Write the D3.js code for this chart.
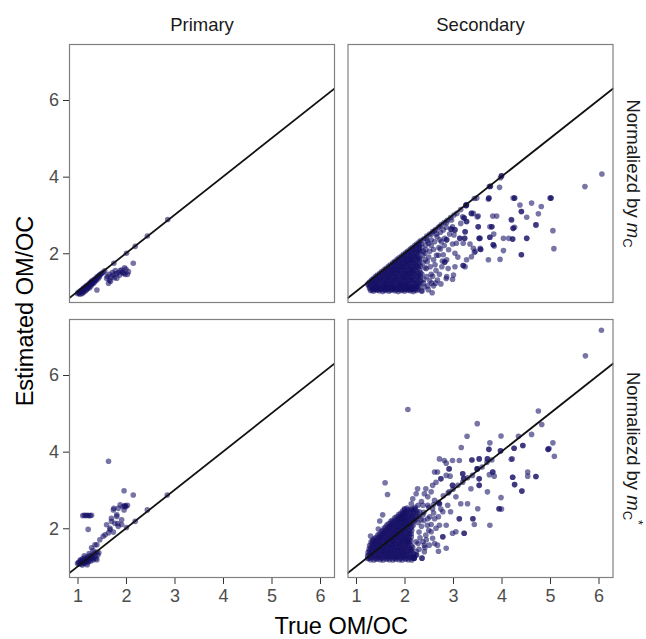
<!DOCTYPE html>
<html>
<head>
<meta charset="utf-8">
<script src="https://cdn.jsdelivr.net/npm/d3@7/dist/d3.min.js"></script>
<style>
  html, body { margin: 0; padding: 0; background: #fff; }
  svg { display: block; font-family: "Liberation Sans", Arial, Helvetica, sans-serif; }
</style>
</head>
<body>
<svg id="chart" width="646" height="639"></svg>
<script>
// ---- facet labels and ticks ----
const columnLabels = ["Primary", "Secondary"];
const rowLabels = [{ lead: "Normaliezd by ", sub: "C", sup: "" },
                   { lead: "Normaliezd by ", sub: "C", sup: "*" }];
const xTicks = [1, 2, 3, 4, 5, 6];
const yTicks = [2, 4, 6];
const xTitle = "True OM/OC";
const yTitle = "Estimated OM/OC";

// ---- [true OM/OC, estimated OM/OC] per facet ----
const primaryMc = [
  [1.02,0.98],[1.05,1.00],[1.07,1.03],[1.08,0.97],[1.10,1.06],[1.12,1.05],[1.13,1.10],[1.15,1.08],
  [1.17,1.12],[1.18,1.15],[1.20,1.14],[1.22,1.18],[1.24,1.20],[1.25,1.17],[1.27,1.24],[1.29,1.25],
  [1.30,1.28],[1.32,1.27],[1.34,1.31],[1.36,1.33],[1.38,1.34],[1.40,1.38],[1.42,1.39],[1.44,1.41],
  [1.46,1.44],[1.48,1.45],[1.50,1.48],[1.53,1.50],[1.56,1.54],[1.75,1.74],
  [1.09,1.02],[1.14,1.04],[1.19,1.10],[1.23,1.14],[1.26,1.21],[1.31,1.23],[1.37,1.30],[1.45,1.38],
  [1.00,0.95],[1.03,0.96],
  [1.05,0.93],[1.10,0.95],[1.12,0.99],[1.15,1.00],[1.18,1.04],[1.20,1.07],[1.22,1.10],[1.25,1.10],
  [1.28,1.15],[1.30,1.20],[1.33,1.22],[1.35,1.25],[1.38,1.29],[1.40,1.04],[1.16,1.09],[1.27,1.19],
  [1.42,1.33],
  [1.60,1.35],[1.62,1.40],[1.64,1.22],[1.66,1.30],[1.68,1.27],[1.70,1.38],[1.74,1.43],[1.76,1.36],
  [1.80,1.47],[1.81,1.35],[1.84,1.49],[1.87,1.43],[1.88,1.55],[1.91,1.56],[1.93,1.50],[1.95,1.48],
  [1.97,1.62],[1.98,1.45],[2.00,1.58],[2.03,1.45],[2.05,1.52],[2.15,1.74],[1.72,1.50],[1.65,1.45],
  [1.78,1.55],
  [2.01,2.00],[2.19,2.18],[2.44,2.45],[2.86,2.88]
];

const secondaryMc = [
  [1.30,1.03],[1.36,1.01],[1.42,1.04],[1.48,1.02],[1.55,1.00],[1.61,1.03],[1.68,1.01],[1.74,1.04],
  [1.80,1.02],[1.87,1.00],[1.93,1.03],[2.00,1.01],[2.06,1.04],[2.12,1.02],[2.18,1.00],[2.25,1.03],
  [2.36,1.01],[2.57,0.97],
  [1.33,1.05],[1.39,1.06],[1.45,1.05],[1.51,1.06],[1.58,1.05],[1.64,1.06],[1.71,1.05],[1.77,1.06],
  [1.83,1.05],[1.90,1.06],[1.96,1.05],[2.03,1.06],[2.09,1.05],[2.15,1.06],[2.21,1.05],[2.28,1.06],
  [1.28,1.09],[1.35,1.07],[1.41,1.10],[1.47,1.08],[1.53,1.06],[1.60,1.09],[1.66,1.07],[1.73,1.10],
  [1.79,1.08],[1.86,1.06],[1.92,1.09],[1.99,1.07],[2.05,1.10],[2.11,1.08],[2.17,1.06],[2.24,1.09],
  [1.28,1.13],[1.34,1.12],[1.41,1.13],[1.47,1.12],[1.53,1.13],[1.60,1.12],[1.66,1.13],[1.73,1.12],
  [1.79,1.13],[1.86,1.12],[1.92,1.13],[1.99,1.12],[2.05,1.13],[2.12,1.12],[2.18,1.13],[2.25,1.12],
  [2.31,1.13],
  [1.25,1.17],[1.31,1.15],[1.38,1.18],[1.44,1.16],[1.50,1.14],[1.57,1.17],[1.63,1.15],[1.70,1.18],
  [1.76,1.16],[1.83,1.14],[1.89,1.17],[1.96,1.15],[2.02,1.18],[2.09,1.16],[2.15,1.14],[2.22,1.17],
  [2.28,1.15],
  [1.25,1.21],[1.31,1.20],[1.37,1.21],[1.44,1.20],[1.50,1.21],[1.57,1.20],[1.63,1.21],[1.69,1.20],
  [1.76,1.21],[1.82,1.20],[1.89,1.21],[1.95,1.20],[2.02,1.21],[2.08,1.20],[2.15,1.21],[2.23,1.20],
  [2.30,1.21],
  [1.28,1.25],[1.34,1.26],[1.41,1.24],[1.47,1.27],[1.54,1.25],[1.60,1.23],[1.66,1.26],[1.73,1.24],
  [1.79,1.27],[1.86,1.25],[1.92,1.23],[1.98,1.26],[2.05,1.24],[2.12,1.27],[2.19,1.25],[2.27,1.23],
  [1.32,1.30],[1.38,1.29],[1.44,1.30],[1.51,1.29],[1.57,1.30],[1.64,1.29],[1.70,1.30],[1.77,1.29],
  [1.83,1.30],[1.90,1.29],[1.97,1.30],[2.03,1.29],[2.10,1.30],[2.17,1.29],[2.24,1.30],[2.32,1.29],
  [1.36,1.34],[1.42,1.33],[1.49,1.35],[1.55,1.32],[1.62,1.34],[1.68,1.36],[1.75,1.33],[1.81,1.35],
  [1.88,1.32],[1.94,1.34],[2.01,1.36],[2.07,1.33],[2.14,1.35],[2.21,1.32],[2.29,1.34],
  [1.40,1.39],[1.46,1.38],[1.53,1.39],[1.59,1.38],[1.66,1.39],[1.72,1.38],[1.79,1.39],[1.85,1.38],
  [1.92,1.39],[1.98,1.38],[2.05,1.39],[2.11,1.38],[2.18,1.39],[2.26,1.38],[2.33,1.39],
  [1.44,1.43],[1.50,1.42],[1.57,1.44],[1.63,1.41],[1.70,1.43],[1.76,1.45],[1.83,1.42],[1.89,1.44],
  [1.96,1.41],[2.02,1.43],[2.09,1.45],[2.16,1.42],[2.23,1.44],[2.30,1.41],
  [1.49,1.48],[1.55,1.47],[1.62,1.48],[1.68,1.47],[1.75,1.48],[1.81,1.47],[1.88,1.48],[1.94,1.47],
  [2.01,1.48],[2.07,1.47],[2.14,1.48],[2.20,1.47],[2.28,1.48],
  [1.53,1.52],[1.60,1.51],[1.66,1.53],[1.73,1.50],[1.79,1.52],[1.86,1.54],[1.92,1.51],[1.99,1.53],
  [2.05,1.50],[2.12,1.52],[2.18,1.54],[2.25,1.51],
  [1.58,1.57],[1.64,1.56],[1.71,1.57],[1.77,1.56],[1.84,1.57],[1.90,1.56],[1.97,1.57],[2.03,1.56],
  [2.10,1.57],[2.16,1.56],[2.23,1.57],[2.31,1.56],
  [1.62,1.61],[1.68,1.60],[1.75,1.62],[1.81,1.59],[1.88,1.61],[1.94,1.63],[2.01,1.60],[2.07,1.62],
  [2.14,1.59],[2.20,1.61],[2.28,1.63],
  [1.67,1.66],[1.73,1.65],[1.80,1.66],[1.86,1.65],[1.93,1.66],[1.99,1.65],[2.06,1.66],[2.12,1.65],
  [2.19,1.66],[2.26,1.65],[2.33,1.66],
  [1.71,1.70],[1.78,1.69],[1.84,1.71],[1.91,1.68],[1.97,1.70],[2.04,1.72],[2.10,1.69],[2.17,1.71],
  [2.24,1.68],[2.31,1.70],
  [1.76,1.75],[1.82,1.74],[1.89,1.75],[1.95,1.74],[2.02,1.75],[2.08,1.74],[2.15,1.75],[2.22,1.74],
  [2.29,1.75],
  [1.80,1.79],[1.87,1.78],[1.93,1.80],[2.00,1.77],[2.06,1.79],[2.13,1.81],[2.19,1.78],[2.26,1.80],
  [1.85,1.84],[1.91,1.83],[1.98,1.84],[2.04,1.83],[2.11,1.84],[2.17,1.83],[2.24,1.84],[2.31,1.83],
  [1.89,1.88],[1.96,1.87],[2.02,1.89],[2.09,1.86],[2.15,1.88],[2.22,1.90],[2.29,1.87],
  [1.94,1.93],[2.00,1.92],[2.07,1.93],[2.13,1.92],[2.20,1.93],[2.27,1.92],
  [1.98,1.97],[2.05,1.96],[2.11,1.98],[2.18,1.95],[2.25,1.97],
  [2.03,2.02],[2.09,2.01],[2.16,2.02],[2.23,2.01],[2.30,2.02],
  [2.07,2.06],[2.14,2.05],[2.20,2.07],[2.27,2.04],[2.32,2.06],
  [2.12,2.11],[2.18,2.10],[2.25,2.11],[2.31,2.10],
  [2.16,2.15],[2.23,2.14],[2.30,2.16],[2.21,2.20],[2.28,2.19],
  [2.25,2.24],[2.31,2.23],[2.30,2.29],
  [2.34,2.33],[2.40,2.38],[2.46,2.45],[2.52,2.50],[2.58,2.57],[2.64,2.62],[2.70,2.68],[2.76,2.75],
  [2.82,2.80],[2.88,2.86],[2.95,2.93],[3.02,3.00],[3.08,3.04],[3.16,3.14],[3.27,3.25],[3.28,3.27],
  [3.44,3.43],[3.49,3.44],[3.75,3.74],[3.77,3.75],[3.98,3.97],[4.00,4.02],
  [2.35,1.02],[2.39,1.22],[2.56,1.22],[2.46,1.39],[2.53,1.65],[2.60,1.83],[2.43,1.83],[2.50,2.26],
  [2.45,2.38],[2.56,2.50],[2.62,2.58],[2.67,2.43],[2.60,2.10],[2.73,2.35],[2.74,2.11],[2.80,1.96],
  [2.77,1.65],[2.87,1.39],[3.01,1.43],[3.04,1.65],[2.87,1.83],[2.91,2.09],[3.04,2.00],[2.87,2.35],
  [3.02,2.48],[3.04,2.61],[2.99,2.69],[2.80,2.61],[2.73,2.70],[2.97,2.87],[2.87,2.80],[3.07,2.26],
  [3.14,2.39],[3.21,2.26],[3.25,2.56],[3.28,2.83],[3.20,2.95],[3.25,1.65],[3.28,1.83],[3.38,1.91],
  [3.42,2.13],[3.46,2.05],[3.56,2.13],[3.56,2.39],[3.52,2.69],[3.50,2.95],[3.42,3.04],[3.10,1.90],
  [2.99,2.24],[2.96,2.63],[3.16,2.78],[2.86,1.34],[2.99,1.32],[2.83,1.77],[2.83,2.39],[2.86,2.68],
  [3.21,1.68],[3.24,2.39],[3.35,2.24],[3.23,2.92],[3.38,3.04],[3.52,2.97],[3.54,2.39],[3.57,2.10],
  [3.44,2.02],
  [2.33,1.50],[2.38,1.75],[2.42,2.00],[2.36,2.15],[2.40,1.32],[2.45,1.60],[2.50,1.90],[2.48,1.15],
  [2.55,1.45],[2.52,2.05],[2.65,1.55],[2.70,1.95],[2.68,1.30],[2.62,2.30],[2.55,2.35],[2.44,2.22],
  [2.32,1.88],[2.34,1.25],
  [2.36,1.45],[2.42,1.62],[2.47,1.78],[2.52,1.28],[2.58,1.40],[2.63,1.70],[2.66,1.95],[2.71,2.15],
  [2.76,2.30],[2.38,1.95],[2.44,2.10],[2.49,1.05],[2.41,1.12],[2.60,1.15],[2.72,1.45],[2.78,1.80],
  [2.55,2.20],[2.66,2.50],[2.74,2.55],[2.82,2.20],[2.47,2.32],[2.35,2.25],[2.39,2.05],[2.90,1.60],
  [2.93,2.50],[2.64,1.22],[2.75,1.20],
  [3.73,3.41],[3.74,3.44],[3.96,3.72],[4.24,3.44],[4.27,3.44],[4.62,3.31],[4.82,3.22],[4.38,3.26],
  [4.41,3.09],[4.76,3.03],[4.52,2.94],[4.21,2.87],[4.20,2.88],[4.71,2.74],[5.06,2.59],[5.08,2.12],
  [4.41,1.96],[4.52,2.39],[4.24,2.65],[4.27,2.68],[4.23,2.37],[4.15,2.39],[4.04,2.39],[4.04,2.07],
  [3.97,1.84],[3.73,1.83],[3.83,2.22],[3.84,2.50],[3.76,2.42],[3.80,2.69],[3.82,2.97],[3.90,2.97],
  [5.00,3.44],[5.02,3.44],[6.07,4.07],[5.72,3.74],[3.76,2.69],[3.85,2.19],[3.27,3.25],
  // repeated observations that stack into darker dots
  [4.27,3.44],[5.02,3.44],[4.41,3.09],[4.71,2.74],[4.52,2.39],[4.24,2.65],[4.23,2.37],[4.41,1.96],
  [3.83,2.22],[3.76,2.42],[3.80,2.69],[3.74,3.44],[3.77,3.75],[4.00,4.02],[3.52,2.69],[3.54,2.39],
  [3.57,2.10],[3.38,3.04],[3.23,2.92],[3.27,3.25],[3.24,2.39],[3.21,1.68],[2.96,2.63],[2.83,1.77],
  [3.28,2.83],[3.25,2.56],[3.14,2.39],[3.04,2.61],[2.87,2.35]
];

const primaryMcStar = [
  [1.00,1.08],[1.03,1.12],[1.05,1.06],[1.07,1.15],[1.08,1.10],[1.10,1.20],[1.12,1.13],[1.13,1.08],
  [1.15,1.22],[1.16,1.16],[1.18,1.10],[1.20,1.25],[1.21,1.18],[1.23,1.12],[1.25,1.28],[1.26,1.20],
  [1.28,1.15],[1.30,1.30],[1.31,1.24],[1.33,1.18],[1.35,1.35],[1.36,1.27],[1.38,1.22],[1.40,1.38],
  [1.42,1.30],[1.40,1.18],[1.10,1.04],[1.20,1.05],[1.44,1.36],[1.06,1.18],[1.14,1.28],[1.24,1.34],
  [1.02,1.10],[1.09,1.14],[1.17,1.13],[1.19,1.20],[1.27,1.25],[1.32,1.21],[1.11,1.09],[1.22,1.15],
  [1.29,1.49],[1.32,1.42],[1.36,1.57],[1.40,1.57],[1.46,1.70],[1.53,1.79],[1.57,1.83],[1.64,1.88],
  [1.67,2.00],[1.67,1.96],[1.60,2.09],[1.70,2.18],[1.74,1.90],[1.77,2.13],[1.70,2.26],[1.81,2.35],
  [1.81,2.31],[1.83,2.12],[1.84,2.05],[1.91,2.10],[1.91,2.22],
  [1.74,2.48],[1.75,2.52],[1.84,2.52],[1.88,2.61],[1.94,2.57],[1.98,2.59],[1.98,2.58],[2.00,2.56],
  [1.96,2.48],[2.03,2.60],
  [1.11,2.33],[1.14,2.34],[1.17,2.33],[1.20,2.34],[1.23,2.33],[1.26,2.33],[1.29,2.34],
  [1.22,1.97],[1.64,3.75],[1.96,2.98],[2.15,2.87],
  [2.01,2.02],[2.19,2.18],[2.44,2.48],[2.85,2.87]
];

const secondaryMcStar = [
  [1.24,1.21],[1.30,1.18],[1.37,1.17],[1.43,1.19],[1.50,1.18],[1.56,1.17],[1.63,1.19],[1.69,1.18],
  [1.76,1.17],[1.82,1.19],[1.89,1.18],[1.95,1.17],[2.02,1.19],[2.08,1.18],[2.15,1.17],[2.20,1.22],
  [2.36,1.22],
  [1.27,1.22],[1.33,1.23],[1.40,1.22],[1.46,1.23],[1.53,1.22],[1.59,1.23],[1.66,1.22],[1.72,1.23],
  [1.79,1.22],[1.85,1.23],[1.92,1.22],[1.98,1.23],[2.05,1.22],[2.11,1.23],[2.18,1.22],
  [1.24,1.28],[1.31,1.26],[1.37,1.28],[1.44,1.27],[1.50,1.25],[1.57,1.28],[1.63,1.26],[1.70,1.28],
  [1.76,1.27],[1.83,1.25],[1.89,1.28],[1.96,1.26],[2.02,1.28],[2.09,1.27],[2.16,1.25],[2.24,1.30],
  [1.27,1.31],[1.34,1.32],[1.40,1.31],[1.47,1.32],[1.53,1.31],[1.60,1.32],[1.66,1.31],[1.73,1.32],
  [1.79,1.31],[1.86,1.32],[1.92,1.31],[1.99,1.32],[2.05,1.31],[2.12,1.32],[2.20,1.31],
  [1.25,1.37],[1.31,1.35],[1.38,1.37],[1.44,1.36],[1.51,1.34],[1.57,1.37],[1.64,1.35],[1.70,1.37],
  [1.77,1.36],[1.83,1.34],[1.90,1.37],[1.96,1.35],[2.03,1.37],[2.10,1.36],[2.18,1.34],
  [1.28,1.40],[1.34,1.41],[1.41,1.40],[1.47,1.41],[1.54,1.40],[1.60,1.41],[1.67,1.40],[1.73,1.41],
  [1.80,1.40],[1.86,1.41],[1.93,1.40],[1.99,1.41],[2.06,1.40],[2.14,1.41],
  [1.27,1.46],[1.33,1.44],[1.40,1.46],[1.46,1.45],[1.53,1.43],[1.59,1.46],[1.66,1.44],[1.72,1.46],
  [1.79,1.45],[1.85,1.43],[1.92,1.46],[1.98,1.44],[2.05,1.46],[2.12,1.45],
  [1.30,1.49],[1.37,1.50],[1.43,1.49],[1.50,1.50],[1.56,1.49],[1.63,1.50],[1.69,1.49],[1.76,1.50],
  [1.82,1.49],[1.89,1.50],[1.95,1.49],[2.02,1.50],[2.09,1.49],[2.17,1.50],
  [1.28,1.55],[1.35,1.53],[1.41,1.55],[1.48,1.54],[1.54,1.52],[1.61,1.55],[1.67,1.53],[1.74,1.55],
  [1.80,1.54],[1.87,1.52],[1.93,1.55],[2.00,1.53],[2.07,1.55],[2.15,1.54],
  [1.32,1.58],[1.38,1.59],[1.45,1.58],[1.51,1.59],[1.58,1.58],[1.64,1.59],[1.71,1.58],[1.77,1.59],
  [1.84,1.58],[1.90,1.59],[1.97,1.58],[2.04,1.59],[2.11,1.58],
  [1.31,1.64],[1.37,1.62],[1.44,1.64],[1.50,1.63],[1.57,1.61],[1.63,1.64],[1.70,1.62],[1.76,1.64],
  [1.83,1.63],[1.89,1.61],[1.96,1.64],[2.02,1.62],[2.09,1.64],
  [1.35,1.67],[1.41,1.68],[1.48,1.67],[1.54,1.68],[1.61,1.67],[1.67,1.68],[1.74,1.67],[1.80,1.68],
  [1.87,1.67],[1.93,1.68],[2.00,1.67],[2.06,1.68],[2.13,1.67],
  [1.38,1.73],[1.44,1.71],[1.51,1.73],[1.57,1.72],[1.64,1.70],[1.70,1.73],[1.77,1.71],[1.83,1.73],
  [1.90,1.72],[1.96,1.70],[2.03,1.73],[2.10,1.71],
  [1.41,1.76],[1.48,1.77],[1.54,1.76],[1.61,1.77],[1.67,1.76],[1.74,1.77],[1.80,1.76],[1.87,1.77],
  [1.93,1.76],[2.00,1.77],[2.07,1.76],[2.14,1.77],
  [1.45,1.82],[1.51,1.80],[1.58,1.82],[1.64,1.81],[1.71,1.79],[1.77,1.82],[1.84,1.80],[1.90,1.82],
  [1.97,1.81],[2.03,1.79],[2.10,1.82],
  [1.48,1.85],[1.55,1.86],[1.61,1.85],[1.68,1.86],[1.74,1.85],[1.81,1.86],[1.87,1.85],[1.94,1.86],
  [2.00,1.85],[2.07,1.86],[2.14,1.85],
  [1.52,1.91],[1.58,1.89],[1.65,1.91],[1.71,1.90],[1.78,1.88],[1.84,1.91],[1.91,1.89],[1.97,1.91],
  [2.04,1.90],[2.11,1.88],
  [1.55,1.94],[1.61,1.95],[1.68,1.94],[1.74,1.95],[1.81,1.94],[1.87,1.95],[1.94,1.94],[2.01,1.95],
  [2.08,1.94],[2.15,1.95],
  [1.58,2.00],[1.65,1.98],[1.71,2.00],[1.78,1.99],[1.84,1.97],[1.91,2.00],[1.97,1.98],[2.04,2.00],
  [2.12,1.99],
  [1.61,2.03],[1.68,2.04],[1.74,2.03],[1.81,2.04],[1.87,2.03],[1.94,2.04],[2.00,2.03],[2.07,2.04],
  [2.15,2.03],
  [1.64,2.09],[1.71,2.07],[1.77,2.09],[1.84,2.08],[1.90,2.06],[1.97,2.09],[2.03,2.07],[2.10,2.09],
  [2.18,2.08],
  [1.68,2.12],[1.74,2.13],[1.81,2.12],[1.87,2.13],[1.94,2.12],[2.00,2.13],[2.07,2.12],[2.15,2.13],
  [1.72,2.18],[1.78,2.16],[1.85,2.18],[1.91,2.17],[1.98,2.15],[2.04,2.18],[2.11,2.16],[2.19,2.18],
  [1.75,2.21],[1.82,2.22],[1.88,2.21],[1.95,2.22],[2.01,2.21],[2.08,2.22],[2.16,2.21],[2.23,2.22],
  [1.80,2.27],[1.87,2.25],[1.93,2.27],[2.00,2.26],[2.06,2.24],[2.13,2.27],[2.21,2.25],
  [1.84,2.30],[1.90,2.31],[1.97,2.30],[2.03,2.31],[2.10,2.30],[2.17,2.31],[2.25,2.30],
  [1.88,2.36],[1.95,2.34],[2.01,2.36],[2.08,2.35],[2.15,2.33],[2.23,2.36],
  [1.92,2.39],[1.98,2.40],[2.05,2.39],[2.12,2.40],[2.19,2.39],[2.27,2.40],
  [1.96,2.45],[2.03,2.43],[2.10,2.45],[2.18,2.44],[2.05,2.53],[2.14,2.51],[2.22,2.55],
  [2.00,2.48],[2.07,2.49],[2.14,2.48],[2.22,2.49],
  [1.65,2.88],[1.60,3.19],[1.49,2.19],[1.46,1.98],[1.34,1.69],[1.55,2.35],[1.30,1.80],[2.07,5.10],
  [2.25,1.30],[2.30,1.45],[2.28,1.60],[2.32,1.75],[2.30,1.90],[2.35,2.05],[2.28,2.15],[2.30,2.30],
  [2.38,2.35],[2.42,1.50],[2.45,1.70],[2.50,1.95],[2.55,2.10],[2.40,2.20],[2.52,2.30],[2.60,2.40],
  [2.48,2.60],[2.35,2.70],[2.28,2.60],[2.25,2.45],[2.65,2.00],[2.70,2.30],[2.75,2.50],[2.62,1.60],
  [2.70,1.40],
  [2.40,2.42],[2.50,2.55],[2.60,2.62],[2.70,2.68],[2.80,2.85],[2.90,2.92],[3.00,3.02],[3.10,3.12],
  [3.20,3.20],[3.30,3.32],[3.40,3.38],[3.50,3.55],[3.60,3.60],[3.70,3.72],[3.80,3.78],
  [2.27,3.03],[2.24,2.90],[2.17,2.77],[2.14,2.64],[2.00,2.51],[1.97,2.38],[1.94,2.25],[2.20,2.51],
  [2.31,2.43],[2.38,2.60],[2.34,2.22],[2.48,2.25],[2.47,2.08],[2.58,2.51],[2.62,2.73],[2.48,2.82],
  [2.55,2.95],[2.41,2.90],[2.44,3.03],[2.58,3.12],[2.65,3.20],[2.62,3.47],[2.62,2.25],[2.55,1.91],
  [2.51,1.56],[2.41,1.39],[2.36,1.22],[2.20,1.22],[2.41,1.56],[2.24,1.39],[2.14,1.43],[2.07,1.65],
  [2.24,1.65],[2.38,1.65],[2.44,1.82],[2.58,1.74],[2.68,1.56],
  [2.72,2.08],[2.86,2.08],[2.79,1.78],[2.86,1.48],[2.99,1.87],[3.06,1.91],[3.23,1.87],[3.13,2.25],
  [2.89,2.60],[2.79,2.43],[2.95,2.43],[2.72,2.64],[3.16,2.64],[3.06,2.82],[2.92,2.95],[2.99,3.12],
  [2.94,3.36],[2.86,3.38],[2.75,3.29],[2.68,3.47],[2.92,3.55],[2.72,3.81],[2.82,3.77],[2.99,3.77],
  [3.13,3.77],[3.20,3.42],[3.22,3.30],[3.37,3.03],[3.30,2.64],[3.41,2.25],[3.44,2.10],[3.51,2.51],
  [3.76,2.08],[3.71,2.95],[3.54,3.12],[3.54,3.29],[3.50,3.55],[3.39,3.78],[3.54,3.81],[3.71,3.81],
  [3.75,3.40],[3.82,3.47],[3.85,3.36],[3.74,4.06],[3.76,4.23],[3.50,4.73],[3.29,4.40],[3.17,4.11],
  [3.98,4.02],[4.26,4.09],[4.44,4.16],[3.99,4.41],[4.35,4.40],[4.62,4.45],[4.76,5.06],[4.83,4.71],
  [5.06,4.23],[4.96,4.06],[4.98,4.08],[5.09,3.88],[4.22,3.81],[4.20,3.80],[4.54,3.47],[4.71,3.35],
  [4.54,3.36],[4.23,3.33],[4.27,3.14],[4.42,2.97],[3.99,2.80],[3.95,2.51],[4.00,2.50],[2.86,3.70],
  [3.41,2.25],[6.06,7.17],[5.73,6.50],
  // repeated observations that stack into darker dots
  [4.96,4.06],[3.74,4.06],[3.98,4.02],[4.26,4.09],[4.44,4.16],[4.71,3.35],[4.23,3.33],[4.27,3.14],
  [4.42,2.97],[3.95,2.51],[3.82,3.47],[3.71,3.81],[3.54,3.81],[3.39,3.78],[3.50,3.55],[3.54,3.29],
  [3.54,3.12],[3.20,3.42],[3.22,3.30],[2.92,3.55],[2.75,3.29],[2.99,3.12],[3.13,2.25],[3.23,1.87],
  [2.79,1.78],[2.72,2.64],[2.20,1.22]
];

const panels = [
  { row: 0, col: 0, data: primaryMc },
  { row: 0, col: 1, data: secondaryMc },
  { row: 1, col: 0, data: primaryMcStar },
  { row: 1, col: 1, data: secondaryMcStar }
];

// ---- layout ----
const svg = d3.select("#chart");
const panelW = 266, panelH = 259;
const colX = [69, 347.5];
const rowY = [44, 319];

const x = d3.scaleLinear().domain([0.825, 6.309]).range([0, panelW]);
const y = d3.scaleLinear().domain([0.702, 7.462]).range([panelH, 0]);

const pointColor = "#140f66";
const tickColor = "#333333";
const labelColor = "#4d4d4d";

panels.forEach((p, i) => {
  const g = svg.append("g").attr("transform", `translate(${colX[p.col]},${rowY[p.row]})`);

  g.append("clipPath").attr("id", "clip" + i)
    .append("rect").attr("width", panelW).attr("height", panelH);

  const inner = g.append("g").attr("clip-path", `url(#clip${i})`);

  inner.selectAll("circle").data(p.data).join("circle")
    .attr("cx", d => x(d[0]))
    .attr("cy", d => y(d[1]))
    .attr("r", 2.8)
    .attr("fill", pointColor)
    .attr("fill-opacity", 0.58);

  // 1:1 reference line across the whole panel
  const [d0, d1] = x.domain();
  inner.append("line")
    .attr("x1", x(d0)).attr("y1", y(d0))
    .attr("x2", x(d1)).attr("y2", y(d1))
    .attr("stroke", "#111")
    .attr("stroke-width", 1.8);

  g.append("rect")
    .attr("x", 0.5).attr("y", 0.5)
    .attr("width", panelW - 1).attr("height", panelH - 1)
    .attr("fill", "none")
    .attr("stroke", "#808080")
    .attr("stroke-width", 1.2);

  if (p.col === 0) {
    const ax = g.append("g")
      .call(d3.axisLeft(y).tickValues(yTicks).tickSize(6).tickPadding(4).tickFormat(d3.format("d")));
    ax.select(".domain").remove();
    ax.selectAll(".tick line").attr("stroke", tickColor);
    ax.selectAll(".tick text").attr("fill", labelColor)
      .style("font-size", "18px").style("font-family", "'Liberation Sans', Arial, sans-serif");
  }
  if (p.row === 1) {
    const ax = g.append("g").attr("transform", `translate(0,${panelH})`)
      .call(d3.axisBottom(x).tickValues(xTicks).tickSize(6).tickPadding(5).tickFormat(d3.format("d")));
    ax.select(".domain").remove();
    ax.selectAll(".tick line").attr("stroke", tickColor);
    ax.selectAll(".tick text").attr("fill", labelColor)
      .style("font-size", "18px").style("font-family", "'Liberation Sans', Arial, sans-serif");
  }
});

// column strips
columnLabels.forEach((lab, c) => {
  svg.append("text")
    .attr("x", colX[c] + panelW / 2)
    .attr("y", 31)
    .attr("text-anchor", "middle")
    .attr("fill", "#1a1a1a")
    .style("font-size", "18.5px")
    .text(lab);
});

// row strips, rotated to read downward
rowLabels.forEach((lab, r) => {
  const t = svg.append("text")
    .attr("transform", `translate(627,${rowY[r] + panelH / 2}) rotate(90)`)
    .attr("text-anchor", "middle")
    .attr("fill", "#1a1a1a")
    .style("font-size", "18.5px");
  t.append("tspan").text(lab.lead);
  t.append("tspan").style("font-style", "italic").text("m");
  t.append("tspan").attr("dy", 4).style("font-size", "13px").text(lab.sub);
  if (lab.sup) {
    t.append("tspan").attr("dy", -11).style("font-size", "13px").text(lab.sup);
  }
});

// axis titles
svg.append("text")
  .attr("x", (colX[0] + colX[1] + panelW) / 2)
  .attr("y", 634)
  .attr("text-anchor", "middle")
  .attr("fill", "#000")
  .style("font-size", "23.5px")
  .text(xTitle);

svg.append("text")
  .attr("transform", `translate(33,${(rowY[0] + rowY[1] + panelH) / 2}) rotate(-90)`)
  .attr("text-anchor", "middle")
  .attr("fill", "#000")
  .style("font-size", "23.5px")
  .text(yTitle);
</script>
</body>
</html>
